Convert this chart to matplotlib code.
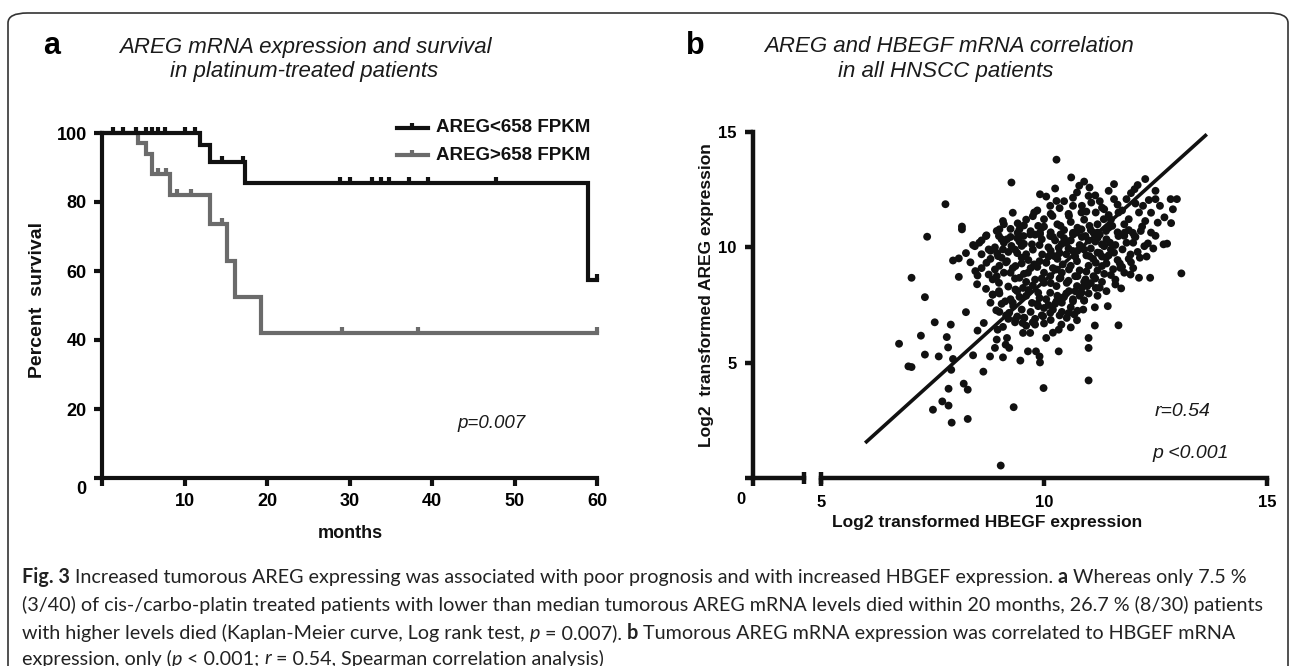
import matplotlib
matplotlib.use('Agg')
import matplotlib.pyplot as plt
from matplotlib.patches import FancyBboxPatch
from matplotlib.transforms import ScaledTranslation

plt.rcParams['font.family'] = ['Liberation Sans', 'DejaVu Sans']

# ---------------------------------------------------------------
# Donnees panneau a : courbes de Kaplan-Meier
low_t = [0, 11.9, 13.1, 17.3, 58.9, 60]
low_s = [100, 96.5, 91.5, 85.5, 57.5, 57.5]
low_cens_t = [1.3, 2.6, 4.1, 5.3, 6.1, 6.8, 7.6, 10.1, 11.3, 14.6, 17.1,
              28.8, 30.1, 32.7, 33.8, 34.8, 37.2, 39.5, 47.8, 60]
low_cens_s = [100, 100, 100, 100, 100, 100, 100, 100, 100, 91.5, 91.5,
              85.5, 85.5, 85.5, 85.5, 85.5, 85.5, 85.5, 85.5, 57.5]

high_t = [0, 4.4, 5.3, 6.0, 8.3, 13.1, 15.1, 16.1, 19.3, 60]
high_s = [100, 97, 94, 88, 82, 73.5, 63, 52.5, 42, 42]
high_cens_t = [6.8, 7.8, 9.1, 10.8, 14.6, 29.1, 38.3, 60]
high_cens_s = [88, 88, 82, 82, 73.5, 42, 42, 42]

# Donnees panneau b : nuage de points HBEGF / AREG
hbegf = [7.38, 8.16, 8.70, 8.41, 7.03, 7.33, 6.75, 7.24, 7.55, 7.33, 6.96, 7.03,
         7.64, 7.82, 7.91, 7.85, 7.96, 7.92, 7.86, 7.72, 7.86, 7.51, 7.93, 8.29,
         8.20, 8.29, 8.64, 8.41, 8.25, 8.51, 8.79, 8.65, 8.93, 8.09, 8.09, 7.96,
         8.51, 8.46, 9.32, 9.03, 9.99, 11.0, 11.0, 11.0, 11.14, 11.67, 11.43, 10.90,
         11.73, 11.60, 12.13, 12.38, 13.08, 11.71, 11.94, 12.33, 12.68, 12.76, 12.17,
         9.91, 9.90, 9.47, 9.64, 9.82, 10.33, 10.05, 10.33, 10.39, 10.60, 10.51,
         10.74, 10.68, 10.88, 11.14, 9.17, 9.22, 8.90, 9.08, 9.14, 8.94, 8.96, 9.08,
         9.53, 9.69, 9.80, 9.52, 9.36, 9.56, 9.73, 9.87, 10.0, 10.14, 9.98, 9.22,
         9.31, 9.13, 8.99, 8.85, 8.85, 8.99, 8.94, 8.90, 8.76, 8.71, 8.97, 9.08,
         9.17, 9.25, 9.36, 9.50, 9.45, 9.36, 9.53, 9.64, 9.78, 9.73, 9.69, 9.91,
         9.96, 10.05, 10.14, 10.0, 9.87, 10.14, 10.28, 10.37, 10.28, 10.42, 10.23,
         10.33, 10.51, 10.65, 10.74, 10.56, 10.70, 10.51, 10.74, 10.56, 10.42, 10.28,
         10.65, 10.84, 10.97, 11.16, 10.93, 11.11, 11.30, 11.16, 11.02, 11.20, 11.39,
         11.57, 11.30, 11.48, 11.67, 11.85, 11.99, 11.76, 11.94, 10.93, 11.11, 10.84,
         11.39, 10.65, 10.37, 10.14, 9.41, 9.17, 8.99, 9.27, 9.50, 8.76, 8.55,
         10.28, 7.79, 9.27, 8.16, 8.71, 8.94, 9.08, 9.0, 9.41, 9.45, 9.91, 9.78,
         10.0, 9.87, 10.14, 10.28, 10.19, 10.37, 10.61, 10.74, 10.79, 11.02, 11.0,
         10.65, 10.56, 10.84, 11.06, 11.16, 11.30, 11.02, 11.34, 11.57, 11.57, 11.67,
         11.53, 11.85, 11.90, 12.03, 12.13, 12.27, 12.22, 12.50, 12.50, 12.27, 12.55,
         12.84, 12.98, 12.89, 11.81, 12.03, 12.40, 11.20, 10.74, 9.91, 9.54,
         9.2, 9.35, 9.6, 9.75, 9.9, 10.1, 10.25, 10.45, 10.6, 10.8, 11.0, 11.2, 11.4,
         11.6, 11.8, 12.0, 10.9, 10.7, 10.5, 10.3, 10.1, 9.9, 9.7, 9.5, 9.3, 9.1,
         9.0, 9.6, 9.8, 10.0, 10.2, 10.4, 10.6, 10.8, 11.0, 11.2, 11.4, 11.5, 11.3,
         11.1, 10.9, 10.7, 10.5, 10.3, 10.1, 9.9, 9.6, 9.4, 9.2, 9.0, 9.3, 9.5, 9.7,
         10.2, 10.4, 10.8, 11.0, 11.3, 11.5, 11.7, 11.9, 12.1, 12.3, 12.5, 12.2, 11.8,
         11.5, 11.2, 10.9, 10.6, 10.3, 10.0, 9.7, 9.4, 9.1, 8.9, 8.6, 8.8, 8.6, 8.5,
         8.7, 8.8, 9.0, 9.2, 9.4, 9.6, 9.8, 10.0, 10.2, 10.4, 10.6, 10.9, 11.2, 11.4,
         11.6, 11.8, 12.0, 10.35, 10.85, 11.25, 11.45, 11.75, 12.05, 12.4, 12.7, 9.6,
         9.3, 9.1, 9.85, 10.05, 10.45,
         9.05, 9.15, 9.4, 9.55, 9.65, 9.85, 10.05, 10.15, 10.35, 10.55, 10.75, 10.95,
         11.05, 11.25, 11.45, 11.65, 11.35, 11.15, 10.85, 10.65, 10.4, 10.2, 9.95, 9.8,
         9.45, 9.25, 9.05, 8.95, 8.8, 9.35, 9.55, 9.75, 9.95, 10.15, 10.35, 10.55,
         10.75, 10.95, 11.15, 11.35, 11.55, 11.75, 11.95, 12.15, 12.25, 12.45, 12.05,
         11.9, 11.65, 11.45, 11.25, 11.05, 10.75, 10.45, 10.15, 9.95, 9.55, 9.25,
         9.65, 9.85, 10.05, 10.25, 10.45, 10.65, 10.85, 11.05, 11.25, 9.45, 9.25, 9.05,
         8.85, 9.15, 9.35, 9.55, 9.75, 9.95, 10.15, 10.35, 10.55, 10.75, 9.75, 10.15,
         10.55, 10.95, 11.35, 11.65, 12.35, 11.95, 11.15, 10.65, 10.25, 10.9, 11.45,
         12.1, 12.6, 12.85, 8.35, 8.45, 8.25, 8.6]
areg = [10.46, 10.78, 10.49, 10.1, 8.68, 7.84, 5.82, 6.17, 6.75, 5.35, 4.84, 4.81,
        5.27, 6.11, 6.65, 5.66, 5.16, 4.69, 3.87, 3.32, 3.14, 2.96, 2.40, 2.56,
        4.09, 3.83, 4.61, 5.32, 7.19, 6.39, 5.27, 6.72, 7.27, 9.52, 8.72, 9.43,
        8.78, 8.97, 3.07, 0.54, 3.90, 4.23, 5.64, 6.07, 6.61, 6.62, 7.45, 7.69,
        8.22, 8.39, 8.68, 8.68, 8.87, 9.11, 8.82, 10.17, 10.13, 10.16, 10.71,
        5.01, 5.27, 5.09, 5.49, 5.49, 5.49, 6.07, 6.43, 6.65, 6.53, 6.94,
        6.84, 7.09, 7.30, 7.40, 6.07, 5.64, 5.64, 5.23, 5.78, 6.0, 6.43, 6.55,
        6.29, 6.29, 6.65, 6.72, 6.87, 6.94, 7.59, 7.45, 7.37, 7.16, 7.01, 7.16,
        7.45, 7.66, 8.10, 7.95, 8.61, 8.46, 8.75, 9.04, 8.82, 9.33, 9.62, 9.91,
        9.40, 8.90, 9.19, 9.55, 8.68, 8.17, 8.24, 8.90, 9.26, 10.13, 10.56, 10.56,
        9.69, 9.33, 8.75, 8.46, 8.03, 8.03, 8.32, 8.68, 9.04, 9.26, 9.62,
        9.98, 10.2, 9.84, 9.40, 9.04, 8.75, 8.46, 8.32, 8.10, 7.81, 7.66,
        7.66, 8.03, 8.32, 8.24, 8.61, 8.75, 9.19, 9.33, 9.62, 9.77, 9.55,
        9.77, 10.13, 10.2, 10.49, 10.2, 10.63, 9.91, 9.69, 10.49, 10.63, 10.78,
        10.71, 10.63, 10.56, 10.49, 10.63, 10.35, 10.49, 10.06, 10.06, 9.91, 10.2,
        13.80, 11.87, 12.81, 10.90, 10.52, 10.71, 11.14, 10.78, 11.04, 10.78, 12.30, 11.51,
        11.22, 10.93, 11.80, 12.01, 11.36, 10.93, 13.03, 12.38, 12.67, 12.59, 12.23,
        11.80, 11.36, 11.51, 11.94, 11.51, 11.72, 10.93, 11.22, 12.74, 12.09, 11.51,
        10.93, 12.09, 11.22, 12.52, 11.51, 12.96, 11.80, 12.45, 12.09, 11.14, 11.07,
        12.09, 12.09, 11.65, 10.64, 10.49, 10.64, 10.64, 10.64, 10.64, 10.49,
        9.8, 9.9, 9.7, 9.9, 10.1, 10.0, 10.3, 10.4, 10.3, 10.1, 10.3, 10.4, 10.35,
        10.1, 10.5, 10.2, 9.9, 9.6, 9.7, 9.5, 9.6, 9.4, 9.1, 9.3, 9.1, 8.9,
        9.2, 8.5, 8.6, 8.9, 9.1, 8.9, 9.2, 9.0, 9.2, 9.0, 9.3, 9.9, 9.6,
        9.5, 8.5, 8.1, 8.0, 7.9, 7.5, 7.8, 7.9, 8.1, 8.3, 8.0, 7.6, 7.3, 7.2,
        7.3, 7.6, 7.9, 8.0, 8.5, 8.8, 9.3, 9.5, 9.8, 9.6, 10.5, 10.9, 11.0,
        11.2, 11.0, 11.2, 11.1, 11.0, 10.9, 10.7, 10.4, 10.2, 10.0, 9.7, 9.5, 9.1, 8.4,
        8.2, 7.6, 7.2, 6.9, 7.0, 6.6, 6.9, 6.7, 6.3, 7.2, 7.4, 7.7, 7.9, 8.1,
        8.6, 8.9, 9.1, 11.7, 11.8, 12.0, 11.4, 11.6, 11.9, 11.5, 11.3, 11.2,
        11.5, 11.0, 11.6, 12.2, 12.0,
        9.55, 9.35, 9.75, 10.15, 9.45, 9.15, 9.35, 9.85, 9.75, 9.95, 9.85, 9.65,
        9.95, 9.75, 9.65, 9.45, 10.05, 10.25, 10.45, 10.55, 10.15, 10.45, 10.35, 10.55,
        10.25, 10.45, 10.35, 9.75, 9.85, 8.65, 8.85, 8.35, 8.65, 8.45, 8.65, 8.55,
        8.75, 8.95, 8.65, 8.85, 9.05, 9.15, 9.35, 9.55, 10.05, 9.95, 10.45,
        10.75, 10.65, 10.85, 10.55, 10.75, 10.85, 10.75, 10.65, 10.85, 10.95, 10.8,
        8.15, 7.55, 7.75, 7.55, 7.85, 7.75, 8.25, 8.45, 8.25, 7.85, 7.75, 7.55,
        7.95, 7.05, 6.75, 6.95, 6.75, 7.05, 6.85, 7.05, 7.15, 7.25, 11.35, 11.45,
        11.45, 11.55, 11.65, 11.85, 12.05, 12.35, 12.25, 12.15, 12.55, 12.85, 12.45,
        12.7, 11.8, 11.05, 9.35, 10.05, 9.75, 10.3]

# droite de regression
reg_x = [5.99, 13.65]
reg_y = [1.52, 14.9]

W, H = 1290, 666
fig = plt.figure(figsize=(W / 100, H / 100), dpi=100)


def box(x0, y0, x1, y1):
    # pixels (origine en haut a gauche) -> fraction de figure
    return [x0 / W, 1 - y1 / H, (x1 - x0) / W, (y1 - y0) / H]


def px(x, y):
    return x / W, 1 - y / H


# cadre arrondi
frame = FancyBboxPatch((8 / W, -0.1), (1280 / W), 1 - 13 / H + 0.1,
                       boxstyle="round,pad=0,rounding_size=0.015",
                       transform=fig.transFigure, fill=False,
                       edgecolor='#333333', linewidth=1.2)
fig.patches.append(frame)

black = '#111111'
grey = '#6b6b6b'
lw = 3.0

# ---------------------------------------------------------------
# Panneau a
ax = fig.add_axes(box(102, 133, 597, 478))
ax.step(high_t, high_s, where='post', color=grey, lw=lw, clip_on=False,
        solid_joinstyle='miter')
ax.step(low_t, low_s, where='post', color=black, lw=lw, clip_on=False,
        solid_joinstyle='miter')
ax.plot(high_cens_t, [s + 0.9 for s in high_cens_s], ls='none', marker='|',
        ms=5, mew=3, color=grey, clip_on=False)
ax.plot(low_cens_t, [s + 0.9 for s in low_cens_s], ls='none', marker='|',
        ms=5, mew=3, color=black, clip_on=False)
ax.set_xlim(0, 60)
ax.set_ylim(0, 100)
ax.set_xticks([0, 10, 20, 30, 40, 50, 60])
ax.set_xticklabels(['', '10', '20', '30', '40', '50', '60'])
ax.set_yticks([0, 20, 40, 60, 80, 100])
for s in ['top', 'right']:
    ax.spines[s].set_visible(False)
for s in ['left', 'bottom']:
    ax.spines[s].set_linewidth(3)
    ax.spines[s].set_color(black)
ax.tick_params(width=3, length=6, color=black, labelsize=13, pad=5)
for lab in ax.get_xticklabels() + ax.get_yticklabels():
    lab.set_fontweight('bold')
ax.get_yticklabels()[0].set_transform(
    ax.get_yticklabels()[0].get_transform() + ScaledTranslation(0, -0.09, fig.dpi_scale_trans))
ax.set_facecolor('none')

fig.text(*px(38, 300), 'Percent  survival', rotation=90, ha='center', va='center',
         fontsize=14, fontweight='bold', color=black)
fig.text(*px(350, 533), 'months', ha='center', va='center', fontsize=13,
         fontweight='bold', color=black)
fig.text(*px(492, 424), 'p=0.007', ha='center', va='center', fontsize=13.5,
         style='italic', color='#1a1a1a')

# legende
for yy, col, lab in [(128, black, 'AREG<658 FPKM'), (155, grey, 'AREG>658 FPKM')]:
    fig.lines.append(plt.Line2D([397 / W, 428 / W], [1 - yy / H] * 2, color=col,
                                lw=lw, transform=fig.transFigure))
    fig.lines.append(plt.Line2D([412 / W], [1 - (yy - 2) / H], color=col, marker='|',
                                ms=5, mew=3, transform=fig.transFigure))
    fig.text(*px(436, yy), lab, ha='left', va='center', fontsize=13.5,
             fontweight='bold', color=black)

fig.text(*px(52, 46), 'a', ha='center', va='center', fontsize=22, fontweight='bold')
fig.text(*px(305, 47), 'AREG mRNA expression and survival', ha='center', va='center',
         fontsize=16, style='italic', color='#1a1a1a')
fig.text(*px(304, 72), 'in platinum-treated patients', ha='center', va='center',
         fontsize=16, style='italic', color='#1a1a1a')

# ---------------------------------------------------------------
# Panneau b (axe x coupe)
axl = fig.add_axes(box(753, 132, 804, 478))
axr = fig.add_axes(box(821, 132, 1267, 478))
for a in (axl, axr):
    a.set_ylim(0, 15)
    a.set_facecolor('none')
    for s in ['top', 'right']:
        a.spines[s].set_visible(False)
    for s in ['left', 'bottom']:
        a.spines[s].set_linewidth(3.2)
        a.spines[s].set_color(black)
    a.tick_params(width=3.2, length=6, color=black, labelsize=12, pad=6)
axl.set_xlim(0, 1.14)
axl.set_xticks([0])
axl.set_yticks([0, 5, 10, 15])
axl.set_yticklabels(['', '5', '10', '15'])
axr.set_xlim(5, 15)
axr.set_xticks([5, 10, 15])
axr.spines['left'].set_visible(False)
axr.set_yticks([])
for a in (axl, axr):
    for lab in a.get_xticklabels() + a.get_yticklabels():
        lab.set_fontweight('bold')
lab0 = axl.get_xticklabels()[0]
lab0.set_transform(lab0.get_transform() + ScaledTranslation(-0.12, 0.03, fig.dpi_scale_trans))

# marques de coupure
axl.plot([1.14], [0], marker='|', ms=9, mew=3.2, color=black, clip_on=False)
axr.plot([5], [0], marker='|', ms=9, mew=3.2, color=black, clip_on=False)

axr.scatter(hbegf, areg, s=32, color=black, edgecolors='none', zorder=3,
            clip_on=False)
axr.plot(reg_x, reg_y, color=black, lw=2.6, solid_capstyle='butt', zorder=4)

fig.text(*px(707, 295), 'Log2  transformed AREG expression', rotation=90,
         ha='center', va='center', fontsize=12.5, fontweight='bold', color=black)
fig.text(*px(987, 523), 'Log2 transformed HBEGF expression', ha='center',
         va='center', fontsize=12.5, fontweight='bold', color=black)
fig.text(*px(1183, 412), 'r=0.54', ha='center', va='center', fontsize=14,
         style='italic', color='#1a1a1a')
fig.text(*px(1191, 453), 'p <0.001', ha='center', va='center', fontsize=14,
         style='italic', color='#1a1a1a')

fig.text(*px(695, 46), 'b', ha='center', va='center', fontsize=22, fontweight='bold')
fig.text(*px(949, 47), 'AREG and HBEGF mRNA correlation', ha='center', va='center',
         fontsize=16, style='italic', color='#1a1a1a')
fig.text(*px(946, 72), 'in all HNSCC patients', ha='center', va='center',
         fontsize=16, style='italic', color='#1a1a1a')

# ---------------------------------------------------------------
# Legende de la figure (texte a styles mixtes)
cap_lines = [
    [("Fig. 3", 'b'), (" Increased tumorous AREG expressing was associated with poor prognosis "
                       "and with increased HBGEF expression. ", 'n'), ("a", 'b'),
     (" Whereas only 7.5 %", 'n')],
    [("(3/40) of cis-/carbo-platin treated patients with lower than median tumorous AREG "
      "mRNA levels died within 20 months, 26.7 % (8/30) patients", 'n')],
    [("with higher levels died (Kaplan-Meier curve, Log rank test, ", 'n'), ("p", 'i'),
     (" = 0.007). ", 'n'), ("b", 'b'),
     (" Tumorous AREG mRNA expression was correlated to HBGEF mRNA", 'n')],
    [("expression, only (", 'n'), ("p", 'i'), (" < 0.001; ", 'n'), ("r", 'i'),
     (" = 0.54, Spearman correlation analysis)", 'n')],
]
cap_y = [577, 605, 633, 659]
cap_font = ['Lato', 'DejaVu Sans']
r = fig.canvas.get_renderer()


def style_kw(st):
    if st == 'b':
        return {'fontweight': 'bold'}
    if st == 'i':
        return {'style': 'italic'}
    return {}


def width_of(t, size, st='n'):
    tt = fig.text(0, 0, t, fontsize=size, family=cap_font, **style_kw(st))
    w = tt.get_window_extent(renderer=r).width
    tt.remove()
    return w


def line_width(runs, size):
    sp = width_of('x x', size) - width_of('xx', size)
    w = 0
    for txt, st in runs:
        w += width_of(txt.strip(), size, st)
        w += sp * (txt.startswith(' ') + txt.endswith(' '))
    return w


# taille ajustee pour que les deux premieres lignes finissent vers x=1262
widest = max(line_width(cap_lines[0], 10), line_width(cap_lines[1], 10))
cap_size = 10 * (1262 - 22) / widest
space_w = width_of('x x', cap_size) - width_of('xx', cap_size)
for runs, yy in zip(cap_lines, cap_y):
    x = 22.0
    for txt, st in runs:
        if txt.startswith(' '):
            x += space_w
        core = txt.strip()
        t = fig.text(x / W, 1 - yy / H, core, fontsize=cap_size, family=cap_font,
                     ha='left', va='center', color='#222222', **style_kw(st))
        x += t.get_window_extent(renderer=r).width
        if txt.endswith(' '):
            x += space_w

fig.savefig('out.png', dpi=100)
